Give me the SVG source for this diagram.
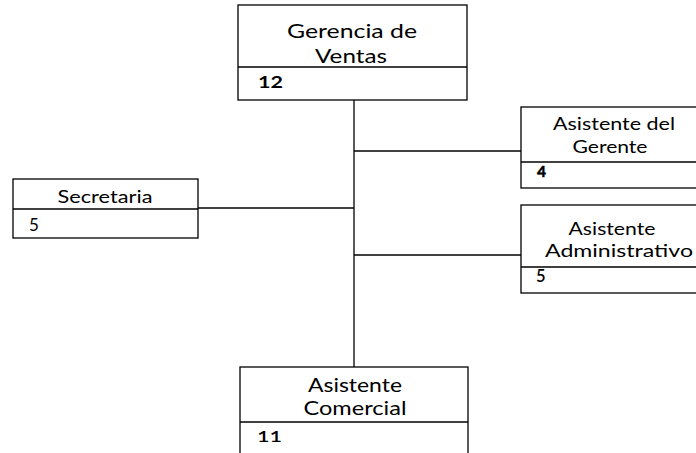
<svg xmlns="http://www.w3.org/2000/svg" width="696" height="453" viewBox="0 0 696 453">
<style>
.box{fill:#fff;stroke:#000;stroke-width:1.3}
.ln{stroke:#000;stroke-width:1.3;fill:none}
.t{font-family:Lato,"Open Sans",sans-serif;fill:#000;text-anchor:middle}
.n{font-family:Lato,"Open Sans",sans-serif;fill:#000;font-weight:bold}
.s{font-weight:600}
.r{font-weight:normal}
.k{stroke:#000;stroke-width:0.5}
</style>
<rect width="696" height="453" fill="#fff"/>
<g id="connectors">
<line class="ln" x1="354" y1="100" x2="354" y2="367"/>
<line class="ln" x1="354" y1="151" x2="521" y2="151"/>
<line class="ln" x1="198" y1="208" x2="354" y2="208"/>
<line class="ln" x1="354" y1="255" x2="521" y2="255"/>
</g>
<g id="gerencia">
<rect class="box" x="238" y="5" width="229" height="95"/>
<line class="ln" x1="238" y1="67" x2="467" y2="67"/>
<text class="t" x="352" y="38" font-size="20" textLength="130" lengthAdjust="spacingAndGlyphs">Gerencia de</text>
<text class="t" x="351" y="63" font-size="20" textLength="72" lengthAdjust="spacingAndGlyphs">Ventas</text>
<text class="n" x="258" y="88" font-size="17" textLength="25" lengthAdjust="spacingAndGlyphs">12</text>
</g>
<g id="asistente-gerente">
<rect class="box" x="521" y="107" width="180" height="81"/>
<line class="ln" x1="521" y1="162" x2="701" y2="162"/>
<text class="t" x="614" y="130" font-size="17" textLength="122" lengthAdjust="spacingAndGlyphs">Asistente del</text>
<text class="t" x="610" y="153" font-size="17" textLength="75" lengthAdjust="spacingAndGlyphs">Gerente</text>
<text class="n k" x="537" y="177" font-size="15.5">4</text>
</g>
<g id="secretaria">
<rect class="box" x="13" y="179" width="185" height="59"/>
<line class="ln" x1="13" y1="209" x2="198" y2="209"/>
<text class="t" x="105" y="203" font-size="16.5" textLength="95" lengthAdjust="spacingAndGlyphs">Secretaria</text>
<text class="n r" x="29" y="231" font-size="17">5</text>
</g>
<g id="asistente-admin">
<rect class="box" x="521" y="205" width="180" height="88"/>
<line class="ln" x1="521" y1="267" x2="701" y2="267"/>
<text class="t" x="612" y="235" font-size="17" textLength="87" lengthAdjust="spacingAndGlyphs">Asistente</text>
<text class="t" x="619" y="257" font-size="17" textLength="148" lengthAdjust="spacingAndGlyphs">Administrativo</text>
<text class="n s" x="536" y="282" font-size="16.5">5</text>
</g>
<g id="asistente-comercial">
<rect class="box" x="240" y="367" width="228" height="95"/>
<line class="ln" x1="240" y1="422" x2="468" y2="422"/>
<text class="t" x="355" y="392" font-size="19" textLength="94" lengthAdjust="spacingAndGlyphs">Asistente</text>
<text class="t" x="355" y="415" font-size="19" textLength="103" lengthAdjust="spacingAndGlyphs">Comercial</text>
<text class="n s" x="257" y="442" font-size="16" textLength="25" lengthAdjust="spacingAndGlyphs">11</text>
</g>
</svg>
